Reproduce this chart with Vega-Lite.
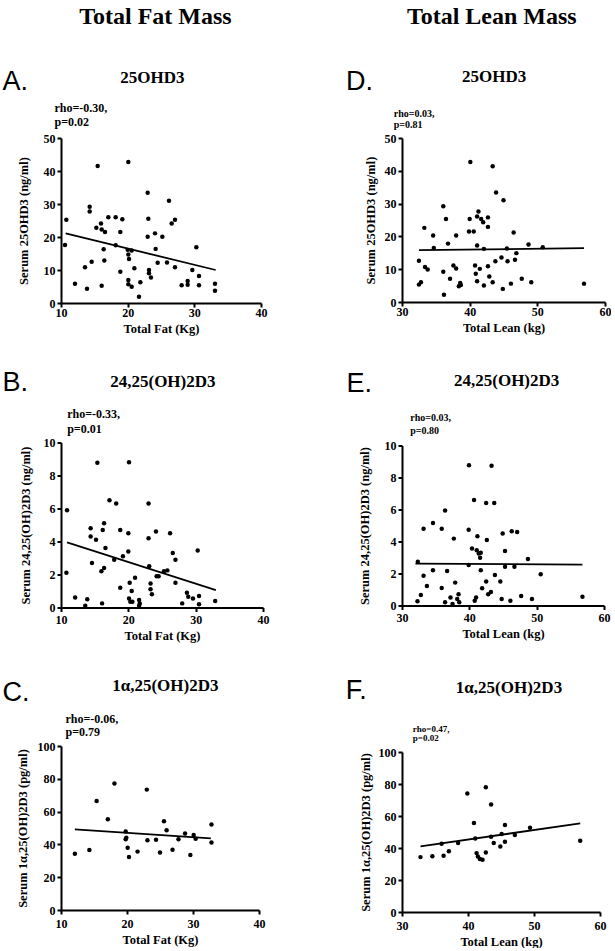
{
  "$schema": "https://vega.github.io/schema/vega-lite/v6.json",
  "background": "white",
  "padding": {"left": 2, "top": 4, "right": 0, "bottom": 0},
  "spacing": 76,
  "datasets": {
    "fat_25": [{"mass":10.8,"level":25.2},{"mass":10.6,"level":17.6},{"mass":12.1,"level":5.8},{"mass":13.6,"level":10.8},{"mass":13.9,"level":4.3},{"mass":14.3,"level":29.2},{"mass":14.3,"level":27.7},{"mass":14.6,"level":12.5},{"mass":15.3,"level":22.8},{"mass":15.5,"level":41.5},{"mass":16.0,"level":24.1},{"mass":16.1,"level":22.3},{"mass":16.4,"level":16.3},{"mass":16.5,"level":12.9},{"mass":16.1,"level":5.2},{"mass":16.6,"level":21.5},{"mass":17.1,"level":26.0},{"mass":18.2,"level":26.0},{"mass":18.2,"level":17.5},{"mass":18.9,"level":21.5},{"mass":18.9,"level":9.5},{"mass":19.2,"level":25.4},{"mass":20.1,"level":42.7},{"mass":20.0,"level":16.1},{"mass":20.1,"level":14.7},{"mass":20.2,"level":13.3},{"mass":20.1,"level":7.0},{"mass":20.1,"level":5.7},{"mass":20.6,"level":4.9},{"mass":20.6,"level":15.9},{"mass":21.0,"level":10.5},{"mass":21.7,"level":1.9},{"mass":21.9,"level":6.3},{"mass":23.0,"level":33.4},{"mass":23.1,"level":25.5},{"mass":23.0,"level":20.1},{"mass":23.2,"level":10.0},{"mass":23.2,"level":9.0},{"mass":23.5,"level":7.7},{"mass":24.1,"level":21.1},{"mass":24.2,"level":16.4},{"mass":24.5,"level":12.2},{"mass":25.2,"level":20.1},{"mass":25.9,"level":12.3},{"mass":26.2,"level":31.0},{"mass":26.6,"level":24.1},{"mass":27.1,"level":25.2},{"mass":27.1,"level":10.8},{"mass":28.1,"level":5.4},{"mass":29.0,"level":6.7},{"mass":29.0,"level":5.5},{"mass":29.7,"level":10.0},{"mass":30.3,"level":16.9},{"mass":30.7,"level":8.2},{"mass":30.7,"level":5.4},{"mass":33.1,"level":5.8},{"mass":33.1,"level":3.7}],
    "fat_25_fit": [{"mass":10.7,"level":21.1},{"mass":33.2,"level":10.0}],
    "fat_2425": [{"mass":10.9,"level":5.9},{"mass":10.8,"level":2.1},{"mass":12.1,"level":0.6},{"mass":13.6,"level":0.1},{"mass":13.9,"level":0.5},{"mass":14.4,"level":4.8},{"mass":14.4,"level":4.3},{"mass":14.6,"level":2.7},{"mass":15.2,"level":4.1},{"mass":15.4,"level":8.77},{"mass":16.0,"level":2.2},{"mass":16.1,"level":0.25},{"mass":16.2,"level":4.7},{"mass":16.4,"level":5.1},{"mass":16.4,"level":2.4},{"mass":16.6,"level":3.6},{"mass":17.2,"level":6.5},{"mass":17.9,"level":2.9},{"mass":18.2,"level":6.3},{"mass":18.8,"level":4.7},{"mass":18.8,"level":1.2},{"mass":19.2,"level":3.1},{"mass":20.0,"level":4.5},{"mass":20.0,"level":3.4},{"mass":20.1,"level":8.8},{"mass":20.2,"level":1.5},{"mass":20.1,"level":0.55},{"mass":20.3,"level":0.35},{"mass":20.5,"level":1.0},{"mass":20.6,"level":0.35},{"mass":21.0,"level":1.8},{"mass":21.6,"level":0.45},{"mass":21.7,"level":0.25},{"mass":21.6,"level":0.1},{"mass":23.0,"level":6.3},{"mass":23.0,"level":4.2},{"mass":23.1,"level":2.5},{"mass":23.3,"level":1.45},{"mass":23.3,"level":1.1},{"mass":23.5,"level":0.8},{"mass":24.1,"level":4.6},{"mass":24.2,"level":1.9},{"mass":24.5,"level":1.9},{"mass":25.3,"level":2.2},{"mass":25.8,"level":2.25},{"mass":26.2,"level":4.5},{"mass":26.6,"level":3.3},{"mass":27.0,"level":2.9},{"mass":27.0,"level":1.5},{"mass":28.0,"level":0.25},{"mass":28.7,"level":0.9},{"mass":28.9,"level":0.65},{"mass":29.6,"level":0.55},{"mass":30.3,"level":3.45},{"mass":30.5,"level":0.7},{"mass":30.5,"level":0.2},{"mass":32.9,"level":0.4}],
    "fat_2425_fit": [{"mass":10.9,"level":3.95},{"mass":33.0,"level":1.05}],
    "fat_1a25": [{"mass":12.1,"level":34.3},{"mass":14.3,"level":36.6},{"mass":15.4,"level":66.5},{"mass":17.1,"level":55.3},{"mass":18.1,"level":77.2},{"mass":19.8,"level":47.8},{"mass":19.9,"level":44.1},{"mass":19.8,"level":43.1},{"mass":20.1,"level":38.0},{"mass":20.3,"level":32.3},{"mass":21.6,"level":35.6},{"mass":23.0,"level":73.4},{"mass":23.1,"level":42.5},{"mass":24.4,"level":42.9},{"mass":25.0,"level":35.0},{"mass":25.6,"level":54.1},{"mass":26.0,"level":48.6},{"mass":26.9,"level":36.8},{"mass":27.8,"level":43.1},{"mass":28.8,"level":46.7},{"mass":29.6,"level":33.5},{"mass":30.1,"level":45.7},{"mass":30.4,"level":43.5},{"mass":32.8,"level":52.2},{"mass":32.8,"level":41.1}],
    "fat_1a25_fit": [{"mass":12.1,"level":49.2},{"mass":32.7,"level":43.7}],
    "lean_25": [{"mass":32.5,"level":5.3},{"mass":32.8,"level":6.0},{"mass":32.5,"level":12.6},{"mass":33.3,"level":22.6},{"mass":33.4,"level":10.7},{"mass":33.8,"level":9.9},{"mass":34.6,"level":20.3},{"mass":34.7,"level":16.5},{"mass":36.1,"level":29.2},{"mass":36.1,"level":9.2},{"mass":36.2,"level":2.2},{"mass":36.5,"level":25.3},{"mass":36.8,"level":17.8},{"mass":37.1,"level":7.1},{"mass":37.6,"level":11.1},{"mass":38.0,"level":10.2},{"mass":38.0,"level":20.3},{"mass":38.4,"level":4.8},{"mass":38.6,"level":5.8},{"mass":38.7,"level":5.2},{"mass":40.1,"level":42.7},{"mass":40.0,"level":25.3},{"mass":39.9,"level":21.5},{"mass":40.6,"level":21.5},{"mass":40.8,"level":11.1},{"mass":40.9,"level":8.6},{"mass":41.1,"level":17.2},{"mass":41.1,"level":6.3},{"mass":41.3,"level":27.6},{"mass":41.1,"level":26.1},{"mass":41.5,"level":10.1},{"mass":41.7,"level":25.3},{"mass":42.0,"level":24.3},{"mass":42.1,"level":16.2},{"mass":42.1,"level":5.0},{"mass":42.7,"level":25.8},{"mass":42.7,"level":22.9},{"mass":42.7,"level":10.9},{"mass":42.9,"level":7.8},{"mass":43.4,"level":41.4},{"mass":43.4,"level":6.0},{"mass":43.8,"level":12.4},{"mass":43.9,"level":33.4},{"mass":44.7,"level":13.6},{"mass":44.9,"level":4.0},{"mass":45.0,"level":31.0},{"mass":45.5,"level":16.3},{"mass":45.6,"level":12.4},{"mass":46.1,"level":5.6},{"mass":46.5,"level":21.2},{"mass":46.7,"level":12.9},{"mass":46.9,"level":14.9},{"mass":47.7,"level":7.1},{"mass":48.7,"level":17.5},{"mass":49.1,"level":6.0},{"mass":50.8,"level":16.7},{"mass":56.9,"level":5.6}],
    "lean_25_fit": [{"mass":32.5,"level":15.8},{"mass":56.9,"level":16.4}],
    "lean_2425": [{"mass":32.35,"level":2.73},{"mass":33.2,"level":4.8},{"mass":33.2,"level":1.86},{"mass":33.7,"level":1.22},{"mass":34.6,"level":5.15},{"mass":34.6,"level":2.2},{"mass":35.9,"level":4.8},{"mass":36.4,"level":5.94},{"mass":35.9,"level":1.1},{"mass":36.7,"level":2.15},{"mass":37.7,"level":4.18},{"mass":37.9,"level":1.43},{"mass":39.9,"level":4.74},{"mass":39.9,"level":2.53},{"mass":40.7,"level":6.6},{"mass":40.4,"level":3.56},{"mass":41.1,"level":3.46},{"mass":41.2,"level":4.33},{"mass":41.4,"level":3.25},{"mass":41.7,"level":3.3},{"mass":41.6,"level":2.98},{"mass":41.7,"level":2.2},{"mass":42.5,"level":6.4},{"mass":42.6,"level":4.1},{"mass":43.7,"level":6.4},{"mass":41.9,"level":1.08},{"mass":42.5,"level":1.5},{"mass":43.8,"level":1.9},{"mass":44.6,"level":1.5},{"mass":44.95,"level":4.5},{"mass":45.3,"level":3.4},{"mass":45.3,"level":2.42},{"mass":46.3,"level":4.64},{"mass":47.1,"level":4.6},{"mass":46.7,"level":2.42},{"mass":48.7,"level":2.9},{"mass":50.6,"level":1.95},{"mass":39.95,"level":8.77},{"mass":43.3,"level":8.73},{"mass":32.8,"level":0.65},{"mass":32.3,"level":0.27},{"mass":36.4,"level":0.2},{"mass":37.2,"level":0.5},{"mass":37.5,"level":0.1},{"mass":38.4,"level":0.7},{"mass":38.2,"level":0.4},{"mass":38.5,"level":0.2},{"mass":40.8,"level":0.3},{"mass":41.0,"level":0.5},{"mass":42.8,"level":0.7},{"mass":43.2,"level":0.85},{"mass":44.8,"level":0.4},{"mass":46.1,"level":0.3},{"mass":47.7,"level":0.6},{"mass":49.3,"level":0.4},{"mass":56.8,"level":0.55}],
    "lean_2425_fit": [{"mass":32.0,"level":2.62},{"mass":56.8,"level":2.55}],
    "lean_1a25": [{"mass":32.8,"level":34.3},{"mass":34.6,"level":34.9},{"mass":36.0,"level":42.7},{"mass":36.3,"level":35.1},{"mass":37.1,"level":37.9},{"mass":38.5,"level":43.1},{"mass":39.9,"level":74.1},{"mass":40.9,"level":55.6},{"mass":41.1,"level":46.0},{"mass":41.3,"level":36.8},{"mass":41.5,"level":34.7},{"mass":41.8,"level":33.1},{"mass":42.2,"level":32.6},{"mass":42.7,"level":78.0},{"mass":42.7,"level":37.2},{"mass":43.5,"level":67.2},{"mass":43.5,"level":47.1},{"mass":43.9,"level":43.1},{"mass":44.9,"level":41.0},{"mass":45.1,"level":48.7},{"mass":45.6,"level":54.4},{"mass":45.6,"level":43.9},{"mass":47.1,"level":48.1},{"mass":49.4,"level":52.7},{"mass":57.0,"level":44.6}],
    "lean_1a25_fit": [{"mass":32.8,"level":41.0},{"mass":57.0,"level":55.4}]
  },
  "hconcat": [
    {
      "columns": 1, "align": "none", "spacing": 33.5,
      "concat": [
        {
          "width": 200, "height": 165,
          "layer": [
            {"data": {"name": "fat_25"}, "mark": {"type": "circle", "size": 20, "color": "black", "opacity": 1},
             "encoding": {
               "x": {"field": "mass", "type": "quantitative", "scale": {"domain": [10, 40], "nice": false}, "axis": {"values": [10, 20, 30, 40], "title": "Total Fat (Kg)", "labelPadding": 0}},
               "y": {"field": "level", "type": "quantitative", "scale": {"domain": [0, 50], "nice": false}, "axis": {"values": [0, 10, 20, 30, 40, 50], "title": "Serum 25OHD3 (ng/ml)", "titlePadding": 13}}}},
            {"data": {"name": "fat_25_fit"}, "mark": {"type": "line", "color": "black", "strokeWidth": 1.8},
             "encoding": {
               "x": {"field": "mass", "type": "quantitative", "scale": {"domain": [10, 40], "nice": false}, "axis": {"values": [10, 20, 30, 40], "title": "Total Fat (Kg)", "labelPadding": 0}},
               "y": {"field": "level", "type": "quantitative", "scale": {"domain": [0, 50], "nice": false}, "axis": {"values": [0, 10, 20, 30, 40, 50], "title": "Serum 25OHD3 (ng/ml)", "titlePadding": 13}}}},
            {"data": {"values": [{"label": "Total Fat Mass"}]}, "mark": {"type": "text", "font": "Liberation Serif", "fontWeight": "bold", "fontSize": 24, "align": "center", "baseline": "middle", "color": "black"},
             "encoding": {"text": {"field": "label"},
               "x": {"datum": 24.17, "type": "quantitative", "axis": {"values": [10, 20, 30, 40], "title": "Total Fat (Kg)", "labelPadding": 0}},
               "y": {"datum": 86.7, "type": "quantitative", "axis": {"values": [0, 10, 20, 30, 40, 50], "title": "Serum 25OHD3 (ng/ml)", "titlePadding": 13}}}},
            {"data": {"values": [{"label": "A."}]}, "mark": {"type": "text", "font": "Liberation Sans", "fontSize": 27, "align": "left", "baseline": "middle", "color": "black"},
             "encoding": {"text": {"field": "label"},
               "x": {"datum": 1.23, "type": "quantitative", "axis": {"values": [10, 20, 30, 40], "title": "Total Fat (Kg)", "labelPadding": 0}},
               "y": {"datum": 67.1, "type": "quantitative", "axis": {"values": [0, 10, 20, 30, 40, 50], "title": "Serum 25OHD3 (ng/ml)", "titlePadding": 13}}}},
            {"data": {"values": [{"label": "25OHD3"}]}, "mark": {"type": "text", "font": "Liberation Serif", "fontWeight": "bold", "fontSize": 17, "align": "center", "baseline": "middle", "color": "black"},
             "encoding": {"text": {"field": "label"},
               "x": {"datum": 23.72, "type": "quantitative", "axis": {"values": [10, 20, 30, 40], "title": "Total Fat (Kg)", "labelPadding": 0}},
               "y": {"datum": 68.2, "type": "quantitative", "axis": {"values": [0, 10, 20, 30, 40, 50], "title": "Serum 25OHD3 (ng/ml)", "titlePadding": 13}}}},
            {"data": {"values": [{"label": "rho=-0.30,"}]}, "mark": {"type": "text", "text": ["rho=-0.30,", "p=0.02"], "font": "Liberation Serif", "fontWeight": "bold", "fontSize": 12, "lineHeight": 14.5, "align": "left", "baseline": "top", "color": "black"},
             "encoding": {
               "x": {"datum": 9.03, "type": "quantitative", "axis": {"values": [10, 20, 30, 40], "title": "Total Fat (Kg)", "labelPadding": 0}},
               "y": {"datum": 60.7, "type": "quantitative", "axis": {"values": [0, 10, 20, 30, 40, 50], "title": "Serum 25OHD3 (ng/ml)", "titlePadding": 13}}}}
          ]
        },
        {
          "width": 202, "height": 165,
          "layer": [
            {"data": {"name": "fat_2425"}, "mark": {"type": "circle", "size": 20, "color": "black", "opacity": 1},
             "encoding": {
               "x": {"field": "mass", "type": "quantitative", "scale": {"domain": [10, 40], "nice": false}, "axis": {"values": [10, 20, 30, 40], "title": "Total Fat (Kg)", "labelPadding": 3}},
               "y": {"field": "level", "type": "quantitative", "scale": {"domain": [0, 10], "nice": false}, "axis": {"values": [0, 2, 4, 6, 8, 10], "title": "Serum 24,25(OH)2D3 (ng/ml)", "titlePadding": 11}}}},
            {"data": {"name": "fat_2425_fit"}, "mark": {"type": "line", "color": "black", "strokeWidth": 1.8},
             "encoding": {
               "x": {"field": "mass", "type": "quantitative", "scale": {"domain": [10, 40], "nice": false}, "axis": {"values": [10, 20, 30, 40], "title": "Total Fat (Kg)", "labelPadding": 3}},
               "y": {"field": "level", "type": "quantitative", "scale": {"domain": [0, 10], "nice": false}, "axis": {"values": [0, 2, 4, 6, 8, 10], "title": "Serum 24,25(OH)2D3 (ng/ml)", "titlePadding": 11}}}},
            {"data": {"values": [{"label": "B."}]}, "mark": {"type": "text", "font": "Liberation Sans", "fontSize": 27, "align": "left", "baseline": "middle", "color": "black"},
             "encoding": {"text": {"field": "label"},
               "x": {"datum": 1.32, "type": "quantitative", "axis": {"values": [10, 20, 30, 40], "title": "Total Fat (Kg)", "labelPadding": 3}},
               "y": {"datum": 13.6, "type": "quantitative", "axis": {"values": [0, 2, 4, 6, 8, 10], "title": "Serum 24,25(OH)2D3 (ng/ml)", "titlePadding": 11}}}},
            {"data": {"values": [{"label": "24,25(OH)2D3"}]}, "mark": {"type": "text", "font": "Liberation Serif", "fontWeight": "bold", "fontSize": 17, "align": "center", "baseline": "middle", "color": "black"},
             "encoding": {"text": {"field": "label"},
               "x": {"datum": 25.13, "type": "quantitative", "axis": {"values": [10, 20, 30, 40], "title": "Total Fat (Kg)", "labelPadding": 3}},
               "y": {"datum": 13.64, "type": "quantitative", "axis": {"values": [0, 2, 4, 6, 8, 10], "title": "Serum 24,25(OH)2D3 (ng/ml)", "titlePadding": 11}}}},
            {"data": {"values": [{"label": "rho=-0.33,"}]}, "mark": {"type": "text", "text": ["rho=-0.33,", "p=0.01"], "font": "Liberation Serif", "fontWeight": "bold", "fontSize": 12, "lineHeight": 15, "align": "left", "baseline": "top", "color": "black"},
             "encoding": {
               "x": {"datum": 10.92, "type": "quantitative", "axis": {"values": [10, 20, 30, 40], "title": "Total Fat (Kg)", "labelPadding": 3}},
               "y": {"datum": 12.03, "type": "quantitative", "axis": {"values": [0, 2, 4, 6, 8, 10], "title": "Serum 24,25(OH)2D3 (ng/ml)", "titlePadding": 11}}}}
          ]
        },
        {
          "width": 198, "height": 164,
          "layer": [
            {"data": {"name": "fat_1a25"}, "mark": {"type": "circle", "size": 20, "color": "black", "opacity": 1},
             "encoding": {
               "x": {"field": "mass", "type": "quantitative", "scale": {"domain": [10, 40], "nice": false}, "axis": {"values": [10, 20, 30, 40], "title": "Total Fat (Kg)", "labelPadding": 4}},
               "y": {"field": "level", "type": "quantitative", "scale": {"domain": [0, 100], "nice": false}, "axis": {"values": [0, 20, 40, 60, 80, 100], "title": "Serum 1α,25(OH)2D3 (pg/ml)", "titlePadding": 8}}}},
            {"data": {"name": "fat_1a25_fit"}, "mark": {"type": "line", "color": "black", "strokeWidth": 1.8},
             "encoding": {
               "x": {"field": "mass", "type": "quantitative", "scale": {"domain": [10, 40], "nice": false}, "axis": {"values": [10, 20, 30, 40], "title": "Total Fat (Kg)", "labelPadding": 4}},
               "y": {"field": "level", "type": "quantitative", "scale": {"domain": [0, 100], "nice": false}, "axis": {"values": [0, 20, 40, 60, 80, 100], "title": "Serum 1α,25(OH)2D3 (pg/ml)", "titlePadding": 8}}}},
            {"data": {"values": [{"label": "C."}]}, "mark": {"type": "text", "font": "Liberation Sans", "fontSize": 27, "align": "left", "baseline": "middle", "color": "black"},
             "encoding": {"text": {"field": "label"},
               "x": {"datum": 1.15, "type": "quantitative", "axis": {"values": [10, 20, 30, 40], "title": "Total Fat (Kg)", "labelPadding": 4}},
               "y": {"datum": 132.6, "type": "quantitative", "axis": {"values": [0, 20, 40, 60, 80, 100], "title": "Serum 1α,25(OH)2D3 (pg/ml)", "titlePadding": 8}}}},
            {"data": {"values": [{"label": "1α,25(OH)2D3"}]}, "mark": {"type": "text", "font": "Liberation Serif", "fontWeight": "bold", "fontSize": 17, "align": "center", "baseline": "middle", "color": "black"},
             "encoding": {"text": {"field": "label"},
               "x": {"datum": 25.81, "type": "quantitative", "axis": {"values": [10, 20, 30, 40], "title": "Total Fat (Kg)", "labelPadding": 4}},
               "y": {"datum": 136.6, "type": "quantitative", "axis": {"values": [0, 20, 40, 60, 80, 100], "title": "Serum 1α,25(OH)2D3 (pg/ml)", "titlePadding": 8}}}},
            {"data": {"values": [{"label": "rho=-0.06,"}]}, "mark": {"type": "text", "text": ["rho=-0.06,", "p=0.79"], "font": "Liberation Serif", "fontWeight": "bold", "fontSize": 12, "lineHeight": 12.6, "align": "left", "baseline": "top", "color": "black"},
             "encoding": {
               "x": {"datum": 10.68, "type": "quantitative", "axis": {"values": [10, 20, 30, 40], "title": "Total Fat (Kg)", "labelPadding": 4}},
               "y": {"datum": 119.4, "type": "quantitative", "axis": {"values": [0, 20, 40, 60, 80, 100], "title": "Serum 1α,25(OH)2D3 (pg/ml)", "titlePadding": 8}}}}
          ]
        }
      ]
    },
    {
      "columns": 1, "align": "none", "spacing": 35.5,
      "concat": [
        {
          "width": 203, "height": 164,
          "layer": [
            {"data": {"name": "lean_25"}, "mark": {"type": "circle", "size": 20, "color": "black", "opacity": 1},
             "encoding": {
               "x": {"field": "mass", "type": "quantitative", "scale": {"domain": [30, 60], "nice": false}, "axis": {"values": [30, 40, 50, 60], "title": "Total Lean (kg)", "labelPadding": 0}},
               "y": {"field": "level", "type": "quantitative", "scale": {"domain": [0, 50], "nice": false}, "axis": {"values": [0, 10, 20, 30, 40, 50], "title": "Serum 25OHD3 (ng/ml)", "titlePadding": 7}}}},
            {"data": {"name": "lean_25_fit"}, "mark": {"type": "line", "color": "black", "strokeWidth": 1.8},
             "encoding": {
               "x": {"field": "mass", "type": "quantitative", "scale": {"domain": [30, 60], "nice": false}, "axis": {"values": [30, 40, 50, 60], "title": "Total Lean (kg)", "labelPadding": 0}},
               "y": {"field": "level", "type": "quantitative", "scale": {"domain": [0, 50], "nice": false}, "axis": {"values": [0, 10, 20, 30, 40, 50], "title": "Serum 25OHD3 (ng/ml)", "titlePadding": 7}}}},
            {"data": {"values": [{"label": "Total Lean Mass"}]}, "mark": {"type": "text", "font": "Liberation Serif", "fontWeight": "bold", "fontSize": 24, "align": "center", "baseline": "middle", "color": "black"},
             "encoding": {"text": {"field": "label"},
               "x": {"datum": 43.27, "type": "quantitative", "axis": {"values": [30, 40, 50, 60], "title": "Total Lean (kg)", "labelPadding": 0}},
               "y": {"datum": 86.9, "type": "quantitative", "axis": {"values": [0, 10, 20, 30, 40, 50], "title": "Serum 25OHD3 (ng/ml)", "titlePadding": 7}}}},
            {"data": {"values": [{"label": "D."}]}, "mark": {"type": "text", "font": "Liberation Sans", "fontSize": 27, "align": "left", "baseline": "middle", "color": "black"},
             "encoding": {"text": {"field": "label"},
               "x": {"datum": 21.74, "type": "quantitative", "axis": {"values": [30, 40, 50, 60], "title": "Total Lean (kg)", "labelPadding": 0}},
               "y": {"datum": 67.0, "type": "quantitative", "axis": {"values": [0, 10, 20, 30, 40, 50], "title": "Serum 25OHD3 (ng/ml)", "titlePadding": 7}}}},
            {"data": {"values": [{"label": "25OHD3"}]}, "mark": {"type": "text", "font": "Liberation Serif", "fontWeight": "bold", "fontSize": 17, "align": "center", "baseline": "middle", "color": "black"},
             "encoding": {"text": {"field": "label"},
               "x": {"datum": 43.61, "type": "quantitative", "axis": {"values": [30, 40, 50, 60], "title": "Total Lean (kg)", "labelPadding": 0}},
               "y": {"datum": 68.7, "type": "quantitative", "axis": {"values": [0, 10, 20, 30, 40, 50], "title": "Serum 25OHD3 (ng/ml)", "titlePadding": 7}}}},
            {"data": {"values": [{"label": "rho=0.03,"}]}, "mark": {"type": "text", "text": ["rho=0.03,", "p=0.81"], "font": "Liberation Serif", "fontWeight": "bold", "fontSize": 10, "lineHeight": 11.7, "align": "left", "baseline": "top", "color": "black"},
             "encoding": {
               "x": {"datum": 28.78, "type": "quantitative", "axis": {"values": [30, 40, 50, 60], "title": "Total Lean (kg)", "labelPadding": 0}},
               "y": {"datum": 58.9, "type": "quantitative", "axis": {"values": [0, 10, 20, 30, 40, 50], "title": "Serum 25OHD3 (ng/ml)", "titlePadding": 7}}}}
          ]
        },
        {
          "width": 202, "height": 160,
          "layer": [
            {"data": {"name": "lean_2425"}, "mark": {"type": "circle", "size": 20, "color": "black", "opacity": 1},
             "encoding": {
               "x": {"field": "mass", "type": "quantitative", "scale": {"domain": [30, 60], "nice": false}, "axis": {"values": [30, 40, 50, 60], "title": "Total Lean (kg)", "labelPadding": 3}},
               "y": {"field": "level", "type": "quantitative", "scale": {"domain": [0, 10], "nice": false}, "axis": {"values": [0, 2, 4, 6, 8, 10], "title": "Serum 24,25(OH)2D3 (ng/ml)", "titlePadding": 13}}}},
            {"data": {"name": "lean_2425_fit"}, "mark": {"type": "line", "color": "black", "strokeWidth": 1.8},
             "encoding": {
               "x": {"field": "mass", "type": "quantitative", "scale": {"domain": [30, 60], "nice": false}, "axis": {"values": [30, 40, 50, 60], "title": "Total Lean (kg)", "labelPadding": 3}},
               "y": {"field": "level", "type": "quantitative", "scale": {"domain": [0, 10], "nice": false}, "axis": {"values": [0, 2, 4, 6, 8, 10], "title": "Serum 24,25(OH)2D3 (ng/ml)", "titlePadding": 13}}}},
            {"data": {"values": [{"label": "E."}]}, "mark": {"type": "text", "font": "Liberation Sans", "fontSize": 27, "align": "left", "baseline": "middle", "color": "black"},
             "encoding": {"text": {"field": "label"},
               "x": {"datum": 21.76, "type": "quantitative", "axis": {"values": [30, 40, 50, 60], "title": "Total Lean (kg)", "labelPadding": 3}},
               "y": {"datum": 13.84, "type": "quantitative", "axis": {"values": [0, 2, 4, 6, 8, 10], "title": "Serum 24,25(OH)2D3 (ng/ml)", "titlePadding": 13}}}},
            {"data": {"values": [{"label": "24,25(OH)2D3"}]}, "mark": {"type": "text", "font": "Liberation Serif", "fontWeight": "bold", "fontSize": 17, "align": "center", "baseline": "middle", "color": "black"},
             "encoding": {"text": {"field": "label"},
               "x": {"datum": 45.54, "type": "quantitative", "axis": {"values": [30, 40, 50, 60], "title": "Total Lean (kg)", "labelPadding": 3}},
               "y": {"datum": 14.04, "type": "quantitative", "axis": {"values": [0, 2, 4, 6, 8, 10], "title": "Serum 24,25(OH)2D3 (ng/ml)", "titlePadding": 13}}}},
            {"data": {"values": [{"label": "rho=0.03,"}]}, "mark": {"type": "text", "text": ["rho=0.03,", "p=0.80"], "font": "Liberation Serif", "fontWeight": "bold", "fontSize": 10, "lineHeight": 13.3, "align": "left", "baseline": "top", "color": "black"},
             "encoding": {
               "x": {"datum": 31.22, "type": "quantitative", "axis": {"values": [30, 40, 50, 60], "title": "Total Lean (kg)", "labelPadding": 3}},
               "y": {"datum": 12.04, "type": "quantitative", "axis": {"values": [0, 2, 4, 6, 8, 10], "title": "Serum 24,25(OH)2D3 (ng/ml)", "titlePadding": 13}}}}
          ]
        },
        {
          "width": 198, "height": 160,
          "layer": [
            {"data": {"name": "lean_1a25"}, "mark": {"type": "circle", "size": 20, "color": "black", "opacity": 1},
             "encoding": {
               "x": {"field": "mass", "type": "quantitative", "scale": {"domain": [30, 60], "nice": false}, "axis": {"values": [30, 40, 50, 60], "title": "Total Lean (kg)", "labelPadding": 4}},
               "y": {"field": "level", "type": "quantitative", "scale": {"domain": [0, 100], "nice": false}, "axis": {"values": [0, 20, 40, 60, 80, 100], "title": "Serum 1α,25(OH)2D3 (pg/ml)", "titlePadding": 6}}}},
            {"data": {"name": "lean_1a25_fit"}, "mark": {"type": "line", "color": "black", "strokeWidth": 1.8},
             "encoding": {
               "x": {"field": "mass", "type": "quantitative", "scale": {"domain": [30, 60], "nice": false}, "axis": {"values": [30, 40, 50, 60], "title": "Total Lean (kg)", "labelPadding": 4}},
               "y": {"field": "level", "type": "quantitative", "scale": {"domain": [0, 100], "nice": false}, "axis": {"values": [0, 20, 40, 60, 80, 100], "title": "Serum 1α,25(OH)2D3 (pg/ml)", "titlePadding": 6}}}},
            {"data": {"values": [{"label": "F."}]}, "mark": {"type": "text", "font": "Liberation Sans", "fontSize": 27, "align": "left", "baseline": "middle", "color": "black"},
             "encoding": {"text": {"field": "label"},
               "x": {"datum": 21.48, "type": "quantitative", "axis": {"values": [30, 40, 50, 60], "title": "Total Lean (kg)", "labelPadding": 4}},
               "y": {"datum": 138.4, "type": "quantitative", "axis": {"values": [0, 20, 40, 60, 80, 100], "title": "Serum 1α,25(OH)2D3 (pg/ml)", "titlePadding": 6}}}},
            {"data": {"values": [{"label": "1α,25(OH)2D3"}]}, "mark": {"type": "text", "font": "Liberation Serif", "fontWeight": "bold", "fontSize": 17, "align": "center", "baseline": "middle", "color": "black"},
             "encoding": {"text": {"field": "label"},
               "x": {"datum": 46.21, "type": "quantitative", "axis": {"values": [30, 40, 50, 60], "title": "Total Lean (kg)", "labelPadding": 4}},
               "y": {"datum": 139.8, "type": "quantitative", "axis": {"values": [0, 20, 40, 60, 80, 100], "title": "Serum 1α,25(OH)2D3 (pg/ml)", "titlePadding": 6}}}},
            {"data": {"values": [{"label": "rho=0.47,"}]}, "mark": {"type": "text", "text": ["rho=0.47,", "p=0.02"], "font": "Liberation Serif", "fontWeight": "bold", "fontSize": 9, "lineHeight": 9.5, "align": "left", "baseline": "top", "color": "black"},
             "encoding": {
               "x": {"datum": 31.63, "type": "quantitative", "axis": {"values": [30, 40, 50, 60], "title": "Total Lean (kg)", "labelPadding": 4}},
               "y": {"datum": 116.9, "type": "quantitative", "axis": {"values": [0, 20, 40, 60, 80, 100], "title": "Serum 1α,25(OH)2D3 (pg/ml)", "titlePadding": 6}}}}
          ]
        }
      ]
    }
  ],
  "config": {
    "view": {"stroke": null},
    "axis": {
      "domainColor": "black", "domainWidth": 2,
      "tickColor": "black", "tickWidth": 2, "tickSize": 4,
      "grid": false,
      "labelFont": "Liberation Serif", "labelFontWeight": "bold", "labelFontSize": 12, "labelColor": "black",
      "titleFont": "Liberation Serif", "titleFontWeight": "bold", "titleFontSize": 12.5, "titleColor": "black",
      "labelFlush": false, "labelOverlap": false, "titlePadding": 4
    }
  }
}
